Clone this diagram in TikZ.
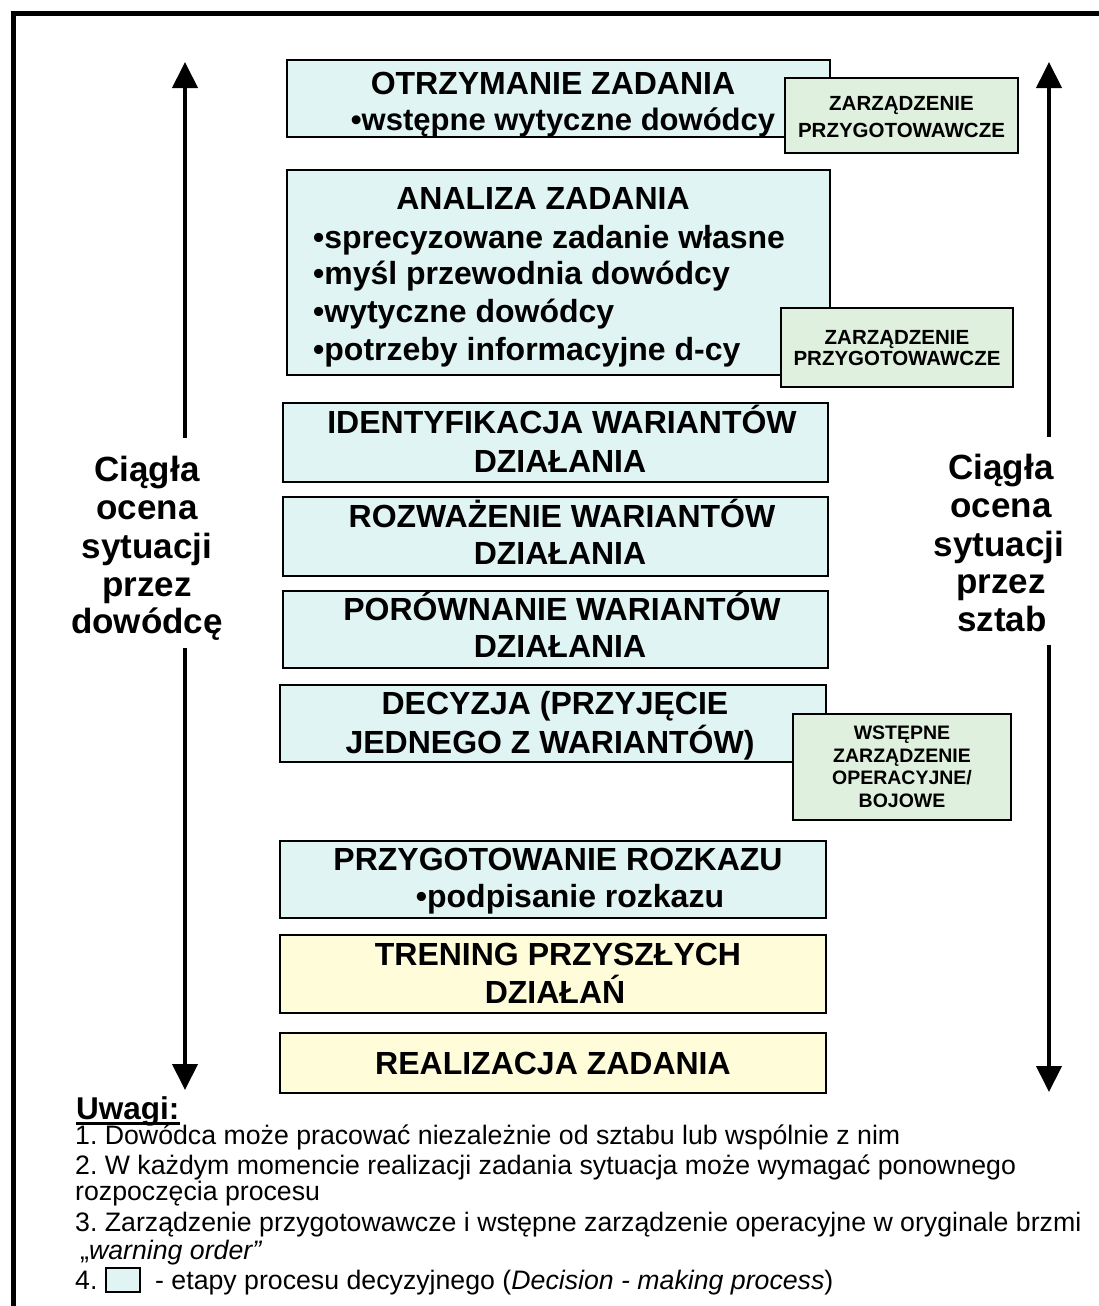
\documentclass[tikz,border=0pt]{standalone}
\usepackage{fontspec}
\setmainfont{Liberation Sans}
\usetikzlibrary{arrows.meta}
\frenchspacing

\definecolor{stepfill}{HTML}{E1F4F4}
\definecolor{orderfill}{HTML}{E0F0DE}
\definecolor{execfill}{HTML}{FFFCDA}

\begin{document}
\begin{tikzpicture}[x=1pt,y=-1pt,
  stagebox/.style={draw, line width=2.8pt, fill=stepfill, inner sep=0pt},
  execbox/.style={stagebox, fill=execfill},
  orderbox/.style={draw, line width=2.4pt, fill=orderfill, inner sep=0pt},
  big/.style={anchor=base, inner sep=0pt, font=\fontsize{32}{37}\selectfont\bfseries},
  bigleft/.style={big, anchor=base west},
  small/.style={anchor=base, inner sep=0pt, font=\fontsize{20.5}{22}\selectfont\bfseries},
  smaller/.style={small, font=\fontsize{19.5}{22}\selectfont\bfseries},
  side/.style={anchor=base, inner sep=0pt, font=\fontsize{35}{38}\selectfont\bfseries},
  note/.style={anchor=base west, inner sep=0pt, font=\fontsize{26.7}{30}\selectfont},
  axis/.style={line width=4pt, -{Triangle[width=25pt,length=26pt]}}
]
\useasboundingbox (0,0) rectangle (1099,1306);

% page frame (left and top edges)
\draw[line width=5pt] (13,1306) -- (13,14) -- (1099,14);

% stage boxes
\node[stagebox, minimum width=543pt, minimum height=77pt]  (s1) at (558.5,98.5)  {};
\node[stagebox, minimum width=543pt, minimum height=205pt] (s2) at (558.5,272.5) {};
\node[stagebox, minimum width=545pt, minimum height=79pt]  (s3) at (555.5,442.5) {};
\node[stagebox, minimum width=545pt, minimum height=79pt]  (s4) at (555.5,536.5) {};
\node[stagebox, minimum width=545pt, minimum height=77pt]  (s5) at (555.5,629.5) {};
\node[stagebox, minimum width=546pt, minimum height=77pt]  (s6) at (553,723.5)   {};
\node[stagebox, minimum width=546pt, minimum height=77pt]  (s7) at (553,879.5)   {};
\node[execbox,  minimum width=546pt, minimum height=78pt]  (s8) at (553,974)     {};
\node[execbox,  minimum width=546pt, minimum height=60pt]  (s9) at (553,1063)    {};

% stage texts
\node[big] (t1a) at (553,95)  {OTRZYMANIE ZADANIA};
\node[big, font=\fontsize{31}{37}\selectfont\bfseries] (t1b) at (563,130) {•wstępne wytyczne dowódcy};

\node[big] (t2a) at (543,209) {ANALIZA ZADANIA};
\node[bigleft] (t2b) at (313,248) {•sprecyzowane zadanie własne};
\node[bigleft] (t2c) at (313,284) {•myśl przewodnia dowódcy};
\node[bigleft] (t2d) at (313,322) {•wytyczne dowódcy};
\node[bigleft] (t2e) at (313,360) {•potrzeby informacyjne d-cy};

\node[big] (t3a) at (562,433) {IDENTYFIKACJA WARIANTÓW};
\node[big] (t3b) at (560,472) {DZIAŁANIA};
\node[big] (t4a) at (562,527) {ROZWAŻENIE WARIANTÓW};
\node[big] (t4b) at (560,564) {DZIAŁANIA};
\node[big] (t5a) at (562,620) {PORÓWNANIE WARIANTÓW};
\node[big] (t5b) at (560,657) {DZIAŁANIA};
\node[big] (t6a) at (555,714) {DECYZJA (PRZYJĘCIE};
\node[big] (t6b) at (550,753) {JEDNEGO Z WARIANTÓW)};
\node[big] (t7a) at (558,870) {PRZYGOTOWANIE ROZKAZU};
\node[big] (t7b) at (570,907) {•podpisanie rozkazu};
\node[big] (t8a) at (558,965) {TRENING PRZYSZŁYCH};
\node[big] (t8b) at (555,1003) {DZIAŁAŃ};
\node[big] (t9a) at (553,1074) {REALIZACJA ZADANIA};

% order boxes
\node[orderbox, minimum width=233pt, minimum height=75pt]  (o1) at (901.5,115.5) {};
\node[small] (o1a) at (901.5,110) {ZARZĄDZENIE};
\node[small] (o1b) at (901.5,137) {PRZYGOTOWAWCZE};

\node[orderbox, minimum width=232pt, minimum height=79pt]  (o2) at (897,347.5) {};
\node[small] (o2a) at (897,344) {ZARZĄDZENIE};
\node[small] (o2b) at (897,365) {PRZYGOTOWAWCZE};

\node[orderbox, minimum width=218pt, minimum height=106pt] (o3) at (902,767) {};
\node[smaller] (o3a) at (902,739) {WSTĘPNE};
\node[smaller] (o3b) at (902,762) {ZARZĄDZENIE};
\node[smaller] (o3c) at (902,784) {OPERACYJNE/};
\node[smaller] (o3d) at (902,807) {BOJOWE};

% continuous assessment labels
\node[side] (l1) at (147,481) {Ciągła};
\node[side] (l2) at (147,519) {ocena};
\node[side] (l3) at (147,558) {sytuacji};
\node[side] (l4) at (147,596) {przez};
\node[side] (l5) at (147,633) {dowódcę};

\node[side] (r1) at (1001,479) {Ciągła};
\node[side] (r2) at (1001,517) {ocena};
\node[side] (r3) at (999,556) {sytuacji};
\node[side] (r4) at (1001,593) {przez};
\node[side] (r5) at (1002,631) {sztab};

% vertical arrows
\coordinate (LT) at (185,62);
\coordinate (LU) at (185,438);
\coordinate (LD) at (185,648);
\coordinate (LB) at (185,1090);
\coordinate (RT) at (1049,62);
\coordinate (RU) at (1049,437);
\coordinate (RD) at (1049,645);
\coordinate (RB) at (1049,1092);
\draw[axis] (LU) -- (LT);
\draw[axis] (LD) -- (LB);
\draw[axis] (RU) -- (RT);
\draw[axis] (RD) -- (RB);

% remarks
\node[anchor=base west, inner sep=0pt, font=\fontsize{31.5}{32}\selectfont\bfseries] (uw) at (76,1119) {Uwagi:};
\draw[line width=2.6pt] ([yshift=-4.5pt]uw.base west) -- ([yshift=-4.5pt]uw.base east);
\node[note] (n1)  at (75,1144) {1. Dowódca może pracować niezależnie od sztabu lub wspólnie z nim};
\node[note] (n2)  at (75,1174) {2. W każdym momencie realizacji zadania sytuacja może wymagać ponownego};
\node[note] (n2b) at (75,1200) {rozpoczęcia procesu};
\node[note] (n3)  at (75,1231) {3. Zarządzenie przygotowawcze i wstępne zarządzenie operacyjne w oryginale brzmi};
\node[note] (n3b) at (80,1259) {„\textit{warning order”}};
\node[note] (n4)  at (75,1289) {4.};
\node[draw, line width=1.8pt, fill=stepfill, minimum width=34pt, minimum height=24pt, inner sep=0pt] (leg) at (123,1280) {};
\node[note] (n4b) at (155,1289) {- etapy procesu decyzyjnego (\textit{Decision - making process})};
\end{tikzpicture}
\end{document}
